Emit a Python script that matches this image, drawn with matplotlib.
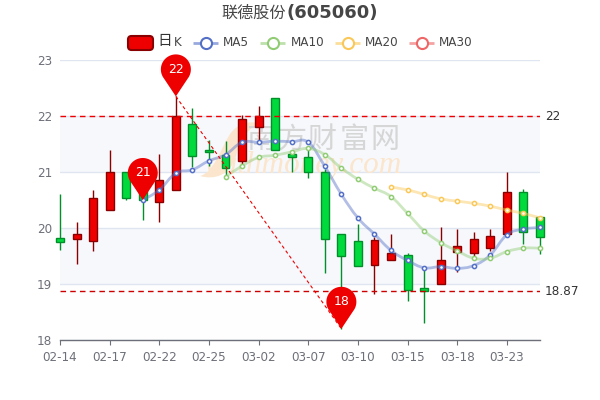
import numpy as np
import matplotlib
matplotlib.use('Agg')
import matplotlib.pyplot as plt
from matplotlib.path import Path
from matplotlib.patches import PathPatch, FancyBboxPatch
from matplotlib.transforms import Affine2D

# open, close, low, high per trading day
opens = [19.83, 19.80, 19.77, 20.32, 21.00, 20.95, 20.46, 20.68, 21.85, 21.40,
         21.30, 21.20, 21.80, 22.33, 21.33, 21.27, 21.00, 19.90, 19.76, 19.34,
         19.42, 19.52, 18.92, 19.00, 19.58, 19.56, 19.65, 19.90, 20.65, 20.20]
closes = [19.75, 19.90, 20.53, 21.00, 20.53, 20.50, 20.85, 22.00, 21.29, 21.35,
          21.08, 21.94, 22.00, 21.40, 21.27, 21.00, 19.80, 19.50, 19.33, 19.78,
          19.56, 18.90, 18.87, 19.42, 19.67, 19.80, 19.85, 20.64, 19.93, 19.84]
lows = [19.60, 19.35, 19.59, 20.32, 20.50, 20.14, 20.10, 20.68, 21.09, 21.10,
        20.95, 21.15, 21.52, 21.40, 21.00, 20.90, 19.20, 18.20, 19.33, 18.83,
        19.42, 18.70, 18.31, 19.00, 19.22, 19.47, 19.59, 19.90, 19.72, 19.53]
highs = [20.60, 20.10, 20.68, 21.40, 21.00, 21.00, 21.32, 22.35, 22.14, 21.58,
         21.55, 22.02, 22.18, 22.33, 21.40, 21.45, 21.05, 19.90, 20.07, 19.84,
         19.90, 19.55, 19.30, 20.02, 19.98, 19.93, 19.98, 21.00, 20.70, 20.20]

ma5 = [20.50, 20.68, 20.98, 21.04, 21.20, 21.31, 21.53, 21.53, 21.55, 21.54,
       21.53, 21.10, 20.60, 20.18, 19.89, 19.60, 19.42, 19.29, 19.31, 19.28,
       19.33, 19.52, 19.88, 19.98, 20.01]
ma10 = [20.91, 21.11, 21.26, 21.30, 21.36, 21.42, 21.31, 21.07, 20.87, 20.71,
        20.56, 20.26, 19.95, 19.74, 19.59, 19.46, 19.46, 19.58, 19.64, 19.64]
ma20 = [20.73, 20.68, 20.60, 20.52, 20.48, 20.44, 20.39, 20.32, 20.26, 20.18]

tick_labels = ['02-14', '02-17', '02-22', '02-25', '03-02',
               '03-07', '03-10', '03-15', '03-18', '03-23']
y_ticks = [18, 19, 20, 21, 22, 23]

pin_days = [7, 5, 17]
pin_values = [22.35, 20.50, 18.20]
pin_labels = ['22', '21', '18']
max_line = 22
min_line = 18.87

RED = '#ee0000'
RED_EDGE = '#8a0000'
GREEN = '#00da3c'
GREEN_EDGE = '#008f28'
GREY = '#6e7079'
CJK = ['Noto Sans CJK SC', 'DejaVu Sans']


def smooth_path(xs, ys, k=0.2):
    # curve through every point, like a smooth line in echarts
    pts = np.column_stack([xs, ys])
    verts = [pts[0]]
    codes = [Path.MOVETO]
    for i in range(len(pts) - 1):
        prev = pts[max(i - 1, 0)]
        nxt = pts[min(i + 2, len(pts) - 1)]
        verts += [pts[i] + (pts[i + 1] - prev) * k,
                  pts[i + 1] - (nxt - pts[i]) * k,
                  pts[i + 1]]
        codes += [Path.CURVE4] * 3
    return Path(verts, codes)


fig = plt.figure(figsize=(6, 4), dpi=100, facecolor='white')

# overlay in picture pixels for title, legend and watermark
px = fig.add_axes([0, 0, 1, 1], zorder=3)
px.set_xlim(0, 600)
px.set_ylim(400, 0)
px.axis('off')

ax = fig.add_axes([60 / 600, 60 / 400, 480 / 600, 280 / 400], zorder=1)
ax.set_xlim(0, 29)
ax.set_ylim(18, 23)
for name in ['top', 'left', 'right']:
    ax.spines[name].set_visible(False)
ax.spines['bottom'].set_color(GREY)
ax.spines['bottom'].set_linewidth(1)

# bands and grid
ax.axhspan(21, 22, color='#f6f8fc', lw=0, zorder=0)
ax.axhspan(19, 20, color='#f6f8fc', lw=0, zorder=0)
ax.axhspan(18, 19, color='#fefefe', lw=0, zorder=0)
ax.set_yticks(y_ticks)
ax.grid(axis='y', color='#e0e6f1', lw=1, zorder=0.5)
ax.set_axisbelow(True)
ax.set_xticks(np.arange(0, 30, 3))
ax.set_xticklabels(tick_labels)
ax.tick_params(axis='x', length=3.6, width=0.8, color=GREY, labelcolor=GREY,
               labelsize=8.64, pad=4.2)
ax.tick_params(axis='y', length=0, labelcolor=GREY, labelsize=8.64, pad=5.8)

# watermark, under the candles
swoosh = Path([(200, 176), (214, 172), (220, 150), (230, 134),
               (238, 123), (250, 120), (262, 124), (248, 126),
               (240, 140), (236, 156), (230, 176), (214, 180), (200, 176)],
              [Path.MOVETO] + [Path.CURVE4] * 12)
ax.add_patch(PathPatch(swoosh, transform=px.transData, fc='#fbe6cd', ec='none',
                       zorder=1, clip_on=False))
for i, ch in enumerate('南方财富网'):
    ax.text(261 + i * 31, 140, ch, transform=px.transData, family=CJK, weight='medium',
            fontsize=21, color='#d6d6d6', ha='center', va='center', zorder=1)
ax.text(206, 165, 'outhmoney.com', transform=px.transData, family='Liberation Serif',
        style='italic', fontsize=22.5, color='#fbe6cd', ha='left', va='center', zorder=1)

# candles
days = np.arange(len(opens))
is_up = np.array(closes) >= np.array(opens)
face = [RED if u else GREEN for u in is_up]
edge = [RED_EDGE if u else GREEN_EDGE for u in is_up]
ax.vlines(days, lows, highs, colors=edge, lw=1, zorder=2, clip_on=False)
ax.bar(days, np.array(closes) - np.array(opens), bottom=opens, width=0.48, color=face,
       edgecolor=edge, linewidth=1, zorder=2.5, clip_on=False)

# moving averages
ma_list = [(ma5, '#5470c6'), (ma10, '#91cc75'), (ma20, '#fac858')]
for values, color in ma_list:
    xs = np.arange(len(opens) - len(values), len(opens))
    ax.add_patch(PathPatch(smooth_path(xs, values), fc='none', ec=color, lw=2, alpha=0.45,
                           zorder=3, clip_on=False))
    ax.plot(xs, values, ls='none', marker='o', ms=3, mfc='white', mec=color, mew=1.1,
            zorder=3.5, clip_on=False)

# mark lines
ax.axhline(max_line, color='#ee0000', lw=1, ls=(0, (4, 3)), zorder=4)
ax.axhline(min_line, color='#cc0000', lw=1, ls=(0, (4, 3)), zorder=4)
for v, s in [(max_line, '22'), (min_line, '18.87')]:
    ax.annotate(s, (29, v), xytext=(5, 0), textcoords='offset pixels', va='center',
                fontsize=8.64, color='#333333', annotation_clip=False)
ax.plot([pin_days[0], pin_days[2]], [pin_values[0], pin_values[2]], color='#ee0000', lw=0.8,
        ls=(0, (3, 2.5)), zorder=4)

# pins
th = np.radians(np.linspace(-38, 218, 60))
pin_shape = np.vstack([[0, 0], np.column_stack([15 * np.cos(th), 27 + 15 * np.sin(th)]), [0, 0]])
for d, v, s in zip(pin_days, pin_values, pin_labels):
    tip = ax.transData.transform((d, v))
    ax.add_patch(PathPatch(Path(pin_shape), fc=RED, ec='none', zorder=5, clip_on=False,
                           transform=Affine2D().translate(*tip)))
    ax.annotate(s, (d, v), xytext=(0, 27), textcoords='offset pixels', ha='center', va='center',
                fontsize=9, color='white', zorder=6, annotation_clip=False)

# title
px.text(286, 13, '联德股份', family=CJK, fontsize=11.6, color='#464646', ha='right', va='center')
px.text(286, 13, '(605060)', fontsize=13, weight='bold', color='#464646', ha='left', va='center')

# legend
px.add_patch(FancyBboxPatch((128, 36), 25, 14, boxstyle='round,pad=0,rounding_size=3.5',
                            fc=RED, ec=RED_EDGE, lw=1.5))
px.text(165, 41, '日', family=CJK, fontsize=10.5, color='#333333', ha='center', va='center')
px.text(174, 43, 'K', fontsize=8.64, color='#464646', ha='left', va='center')
legend_items = [('MA5', '#5470c6', 193, 223), ('MA10', '#91cc75', 260, 291),
                ('MA20', '#fac858', 335, 365), ('MA30', '#ee6666', 409, 439)]
for label, color, x0, tx in legend_items:
    px.plot([x0, x0 + 25], [42.5, 42.5], color=color, lw=2, alpha=0.6, solid_capstyle='butt')
    px.plot([x0 + 12.5], [42.5], marker='o', ms=8, mfc='white', mec=color, mew=1.5)
    px.text(tx, 42.5, label, fontsize=8.64, color='#464646', ha='left', va='center')

fig.savefig('out.png', dpi=100)
